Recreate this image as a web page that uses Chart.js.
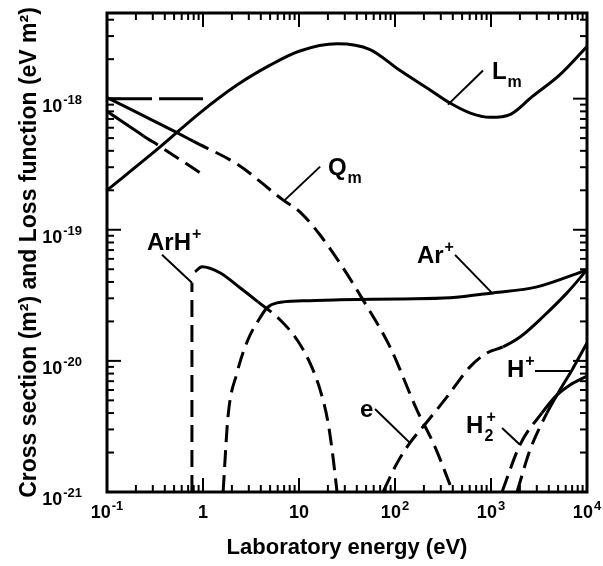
<!DOCTYPE html>
<html>
<head>
<meta charset="utf-8">
<script src="https://cdn.jsdelivr.net/npm/chart.js@4.4.1/dist/chart.umd.min.js"></script>
<style>
  body { margin: 0; background: #fff; }
</style>
</head>
<body>
<canvas id="grafica" width="603" height="566"></canvas>
<script>
// valores: energia (eV) y seccion / funcion de perdida
const lmEnergy = [0.1, 0.36, 0.93, 2.3, 5, 10, 25, 55, 110, 230, 370, 600, 980, 1600, 2700, 5200, 10000];
const lmValue  = [2.0e-19, 4.3e-19, 7.8e-19, 1.28e-18, 1.8e-18, 2.3e-18, 2.62e-18, 2.37e-18, 1.66e-18, 1.17e-18, 9.3e-19, 7.8e-19, 7.2e-19, 7.6e-19, 1.04e-18, 1.52e-18, 2.5e-18];

const qmEnergy = [0.1, 0.536, 0.79, 2.32, 6.8, 10.2, 16.5, 28.7, 46.4, 88.7, 169, 261, 400];
const qmValue  = [1.02e-18, 5.5e-19, 4.74e-19, 3.13e-19, 1.69e-19, 1.37e-19, 9.16e-20, 5.13e-20, 2.92e-20, 1.28e-20, 4.23e-21, 2.21e-21, 1e-21];

const qLowEnergy = [0.1, 0.24, 0.36, 1.0];
const qLowValue  = [8.0e-19, 5.2e-19, 4.3e-19, 2.63e-19];

const flatEnergy = [0.1, 1.0];
const flatValue  = [1e-18, 1e-18];

const arhOnsetEnergy = [0.767, 0.767];
const arhOnsetValue  = [1e-21, 3.94e-20];
const arhEnergy = [0.826, 0.976, 1.5, 2.43, 3.74, 6.34, 9.53, 13.0, 16.6, 20.1, 22.6, 24.9];
const arhValue  = [4.78e-20, 5.22e-20, 4.7e-20, 3.61e-20, 2.82e-20, 2.06e-20, 1.45e-20, 9.66e-21, 6.01e-21, 3.37e-21, 1.85e-21, 1e-21];

const arEnergy = [1.62, 1.82, 2.26, 2.94, 3.93, 4.64, 5.9, 11, 26.7, 113, 374, 1050, 3010, 10000];
const arValue  = [1e-21, 3.74e-21, 8.09e-21, 1.45e-20, 2.13e-20, 2.54e-20, 2.77e-20, 2.87e-20, 2.92e-20, 2.97e-20, 3.03e-20, 3.3e-20, 3.67e-20, 4.95e-20];

const eEnergy = [75, 105, 143, 215, 348, 604, 908, 1334, 2005, 3480, 6190, 10000];
const eValue  = [1e-21, 1.66e-21, 2.37e-21, 3.42e-21, 5.31e-21, 9.0e-21, 1.15e-20, 1.28e-20, 1.52e-20, 2.17e-20, 3.3e-20, 4.95e-20];

const hEnergy = [1866, 2548, 3831, 5233, 6982, 10000];
const hValue  = [1e-21, 2.09e-21, 4.01e-21, 6.01e-21, 8.53e-21, 1.37e-20];

const h2Energy = [1303, 2005, 3398, 4870, 6650, 10000];
const h2Value  = [1e-21, 2.29e-21, 4.01e-21, 5.5e-21, 6.56e-21, 7.67e-21];

// etiquetas de los ejes: base y exponente
const xTickValues = [0.1, 1, 10, 100, 1000, 10000];
const xTickBase   = ['10', '1', '10', '10', '10', '10'];
const xTickExp    = ['-1', '', '', '2', '3', '4'];
const yTickValues = [1e-21, 1e-20, 1e-19, 1e-18];
const yTickBase   = ['10', '10', '10', '10'];
const yTickExp    = ['-21', '-20', '-19', '-18'];

const FUENTE = "'Liberation Sans', Arial, Helvetica, sans-serif";
const DASH = [17, 8];

function puntos(xs, ys) {
  return xs.map((v, i) => ({x: v, y: ys[i]}));
}

// trazo discontinuo segun la energia del tramo
function discontinuo(prueba) {
  return ctx => prueba(ctx.p0.parsed.x, ctx.p1.parsed.x) ? DASH : undefined;
}

function serie(xs, ys, extra) {
  return Object.assign({
    data: puntos(xs, ys),
    showLine: true,
    borderColor: '#000',
    borderWidth: 3,
    pointRadius: 0,
    fill: false,
    cubicInterpolationMode: 'monotone'
  }, extra || {});
}

// etiquetas de las curvas (posiciones en unidades de datos)
const etiquetas = [
  {t: 'L', sub: 'm', x: 1023, y: 1.40e-18, from: [356, 9.0e-19], to: [826, 1.64e-18]},
  {t: 'Q', sub: 'm', x: 20.0, y: 2.63e-19, from: [7.14, 1.69e-19], to: [16.6, 3.03e-19]},
  {t: 'ArH', sup: '+', x: 0.261, y: 7.03e-20, from: [0.374, 6.44e-20], to: [0.767, 3.94e-20]},
  {t: 'Ar', sup: '+', x: 169, y: 5.6e-20, from: [422, 6.44e-20], to: [1023, 3.3e-20]},
  {t: 'e', x: 43.2, y: 3.74e-21, from: [61.9, 4.3e-21], to: [143, 2.37e-21]},
  {t: 'H', sup: '+', x: 1468, y: 7.55e-21, from: [2870, 8.39e-21], to: [6650, 8.39e-21]},
  {t: 'H', sub: '2', sup: '+', x: 550, y: 2.82e-21, from: [1303, 3.08e-21], to: [2005, 2.29e-21]}
];

// texto con exponente; devuelve el ancho total
function potencia(ctx, base, exp, px, py, alinear) {
  ctx.font = 'bold 18px ' + FUENTE;
  const wb = ctx.measureText(base).width;
  ctx.font = 'bold 13px ' + FUENTE;
  const we = exp ? ctx.measureText(exp).width + 1 : 0;
  let x0 = px;
  if (alinear === 'center') x0 = px - (wb + we) / 2;
  if (alinear === 'right') x0 = px - wb - we;
  ctx.textAlign = 'left';
  ctx.textBaseline = 'alphabetic';
  ctx.font = 'bold 18px ' + FUENTE;
  ctx.fillText(base, x0, py);
  if (exp) {
    ctx.font = 'bold 13px ' + FUENTE;
    ctx.fillText(exp, x0 + wb + 1, py - 8);
  }
}

const marcoPlugin = {
  id: 'marco',
  afterDatasetsDraw(chart) {
    const {ctx, chartArea: a, scales} = chart;
    const x = scales.x, y = scales.y;
    ctx.save();
    ctx.strokeStyle = '#000';
    ctx.fillStyle = '#000';
    ctx.lineCap = 'butt';

    function linea(x1, y1, x2, y2, w) {
      ctx.lineWidth = w;
      ctx.beginPath();
      ctx.moveTo(x1, y1);
      ctx.lineTo(x2, y2);
      ctx.stroke();
    }

    // marcas hacia adentro, en los cuatro lados
    for (let d = -1; d < 4; d++) {
      for (let k = 1; k < 10; k++) {
        const px = x.getPixelForValue(k * Math.pow(10, d));
        const len = k === 1 ? 14 : 7;
        linea(px, a.bottom, px, a.bottom - len, 2);
        linea(px, a.top, px, a.top + len, 2);
      }
    }
    for (let d = -21; d < -17; d++) {
      for (let k = 1; k < 10; k++) {
        const v = k * Math.pow(10, d);
        if (v > y.max) break;
        const py = y.getPixelForValue(v);
        const len = k === 1 ? 14 : 7;
        linea(a.left, py, a.left + len, py, 2);
        linea(a.right, py, a.right - len, py, 2);
      }
    }
    ctx.lineWidth = 3;
    ctx.strokeRect(a.left, a.top, a.right - a.left, a.bottom - a.top);

    // numeros de los ejes
    xTickValues.forEach((v, i) => {
      potencia(ctx, xTickBase[i], xTickExp[i], x.getPixelForValue(v), a.bottom + 26, 'center');
    });
    yTickValues.forEach((v, i) => {
      potencia(ctx, yTickBase[i], yTickExp[i], a.left - 25, y.getPixelForValue(v) + 13, 'right');
    });

    // etiquetas y lineas guia
    etiquetas.forEach(e => {
      linea(x.getPixelForValue(e.from[0]), y.getPixelForValue(e.from[1]),
            x.getPixelForValue(e.to[0]), y.getPixelForValue(e.to[1]), 2);
      let px = x.getPixelForValue(e.x);
      const py = y.getPixelForValue(e.y);
      ctx.textAlign = 'left';
      ctx.textBaseline = 'alphabetic';
      ctx.font = 'bold 24px ' + FUENTE;
      ctx.fillText(e.t, px, py);
      px += ctx.measureText(e.t).width;
      ctx.font = 'bold 16px ' + FUENTE;
      if (e.sub) {
        ctx.fillText(e.sub, px + 1, py + 8);
      }
      if (e.sup) {
        ctx.fillText(e.sup, px + (e.sub ? 3 : 1), py - 11);
      }
    });
    ctx.restore();
  }
};

new Chart(document.getElementById('grafica'), {
  type: 'scatter',
  data: {
    datasets: [
      serie(lmEnergy, lmValue),
      serie(qmEnergy, qmValue, {segment: {borderDash: discontinuo((a, b) => a >= 0.79)}}),
      serie(qLowEnergy, qLowValue, {segment: {borderDash: discontinuo((a, b) => a >= 0.24)}}),
      serie(flatEnergy, flatValue, {borderDash: [45, 7]}),
      serie(arhOnsetEnergy, arhOnsetValue, {borderDash: DASH, cubicInterpolationMode: 'default', tension: 0}),
      serie(arhEnergy, arhValue, {segment: {borderDash: discontinuo((a, b) => a >= 3.74)}}),
      serie(arEnergy, arValue, {segment: {borderDash: discontinuo((a, b) => b <= 4.64)}}),
      serie(eEnergy, eValue, {segment: {borderDash: discontinuo((a, b) => b <= 1334)}}),
      serie(hEnergy, hValue, {segment: {borderDash: discontinuo((a, b) => b <= 3831)}}),
      serie(h2Energy, h2Value, {segment: {borderDash: discontinuo((a, b) => b <= 3398)}})
    ]
  },
  options: {
    responsive: false,
    animation: false,
    layout: {padding: {top: 13, right: 16, left: 0, bottom: 0}},
    plugins: {
      legend: {display: false},
      tooltip: {enabled: false}
    },
    scales: {
      x: {
        type: 'logarithmic',
        min: 0.1,
        max: 10000,
        grid: {display: false, drawTicks: false},
        border: {display: false},
        ticks: {display: false},
        afterFit: scale => {
          scale.height = 74;
          scale.paddingLeft = 0;
          scale.paddingRight = 0;
        },
        title: {
          display: true,
          text: 'Laboratory energy (eV)',
          color: '#000',
          font: {family: FUENTE, size: 22, weight: 'bold'},
          padding: {top: 0, bottom: 5}
        }
      },
      y: {
        type: 'logarithmic',
        min: 1e-21,
        max: 4.5e-18,
        grid: {display: false, drawTicks: false},
        border: {display: false},
        ticks: {display: false},
        afterFit: scale => {
          scale.width = 107;
          scale.paddingTop = 0;
          scale.paddingBottom = 0;
        },
        title: {
          display: true,
          text: 'Cross section (m\u00B2) and Loss function (eV m\u00B2)',
          color: '#000',
          font: {family: FUENTE, size: 23, weight: 'bold'},
          padding: {top: 16, bottom: 0}
        }
      }
    }
  },
  plugins: [marcoPlugin]
});
</script>
</body>
</html>
